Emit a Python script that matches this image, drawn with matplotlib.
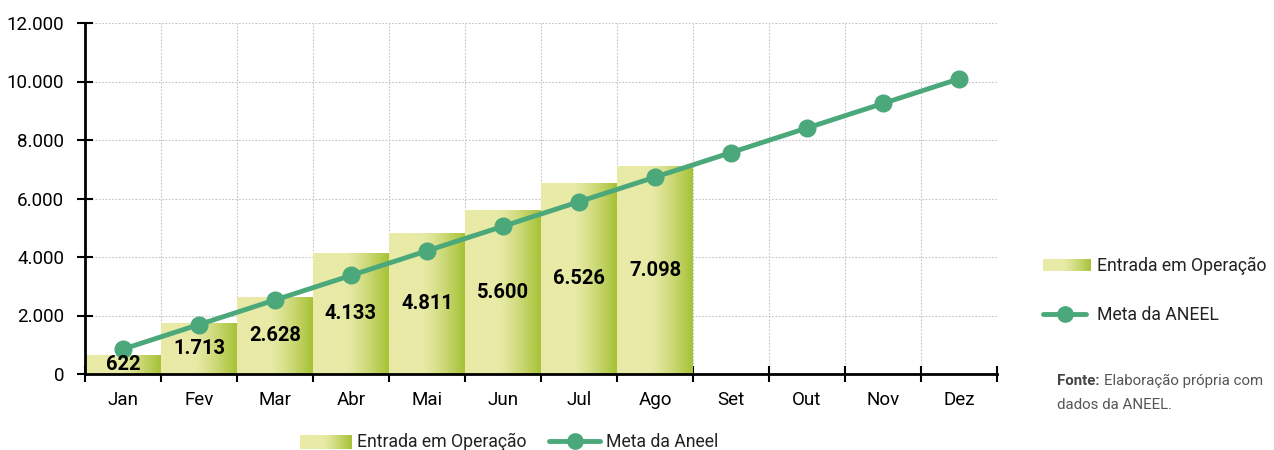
import numpy as np
import matplotlib
matplotlib.use("Agg")
import matplotlib.pyplot as plt
from matplotlib.colors import to_rgb
from matplotlib.lines import Line2D
from matplotlib.ticker import FuncFormatter, FixedLocator

plt.rcParams['font.family'] = ['Roboto', 'DejaVu Sans']

meses = ['Jan', 'Fev', 'Mar', 'Abr', 'Mai', 'Jun', 'Jul', 'Ago', 'Set', 'Out', 'Nov', 'Dez']
entrada = [622, 1713, 2628, 4133, 4811, 5600, 6526, 7098]
meta = [850, 1690, 2530, 3370, 4210, 5050, 5890, 6730, 7570, 8410, 9250, 10090]

light = np.array(to_rgb('#e8eaa6'))
dark = np.array(to_rgb('#a6c236'))
line_col = '#4aa87a'

# gradient along the bar width: flat light part, then ramp to dark
t = np.linspace(0, 1, 200)
w = np.clip((t - 0.45) / 0.55, 0, 1) ** 1.2
grad = (light[None, :] * (1 - w[:, None]) + dark[None, :] * w[:, None])[None, :, :]

fig = plt.figure(figsize=(12.74, 4.5), dpi=100)
ax = fig.add_axes([85 / 1274, 76 / 450, 912 / 1274, 351 / 450])

x = np.arange(len(meses))
bars = ax.bar(x[:len(entrada)], entrada, width=1.0, color='none', zorder=2)
for b, v in zip(bars, entrada):
    ax.imshow(grad, extent=[b.get_x(), b.get_x() + b.get_width(), 0, b.get_height()],
              aspect='auto', zorder=2, interpolation='bilinear')
    ax.text(b.get_x() + b.get_width() / 2, v / 2, f'{v:,}'.replace(',', '.'),
            ha='center', va='center', fontsize=14.5, fontweight='bold', zorder=4)

ax.plot(x, meta, color=line_col, lw=3.5, marker='o', ms=12, zorder=3)

ax.set_xlim(-0.5, len(meses) - 0.5)
ax.set_ylim(0, 12000)
ax.set_yticks(range(0, 12001, 2000))
ax.yaxis.set_major_formatter(FuncFormatter(lambda v, p: f'{int(v):,}'.replace(',', '.')))

ax.xaxis.set_major_locator(FixedLocator(np.arange(-0.5, len(meses), 1.0)))
ax.xaxis.set_major_formatter(FuncFormatter(lambda v, p: ''))
ax.set_xticks(x, minor=True)
ax.set_xticklabels(meses, minor=True)
ax.tick_params(axis='x', which='minor', length=0, labelsize=13.5, pad=12)
ax.tick_params(axis='x', which='major', direction='inout', length=12, width=1.5)
ax.tick_params(axis='y', direction='inout', length=12, width=1.5, labelsize=13.5, pad=9)

ax.grid(True, which='major', color='#c4c4c4', ls=(0, (1.5, 1.5)), lw=0.8)
ax.set_axisbelow(True)
for s in ['top', 'right']:
    ax.spines[s].set_visible(False)
for s in ['left', 'bottom']:
    ax.spines[s].set_linewidth(2)
    ax.spines[s].set_zorder(5)


def swatch(x0, y0, wpx, hpx):
    a = fig.add_axes([x0 / 1274, 1 - (y0 + hpx) / 450, wpx / 1274, hpx / 450])
    a.imshow(grad, aspect='auto', interpolation='bilinear')
    a.axis('off')


def legline(x0, x1, y):
    yf = 1 - y / 450
    fig.add_artist(Line2D([x0 / 1274, x1 / 1274], [yf, yf], color=line_col, lw=3.5,
                          solid_capstyle='round'))
    fig.add_artist(Line2D([(x0 + x1) / 2 / 1274], [yf], color=line_col, marker='o', ms=11))


# right legend
swatch(1043, 259, 48, 12)
fig.text(1097 / 1274, 1 - 266 / 450, 'Entrada em Operação', fontsize=12.7, va='center',
         color='#222222')
legline(1043, 1086, 314)
fig.text(1097 / 1274, 1 - 315 / 450, 'Meta da ANEEL', fontsize=12.7, va='center',
         color='#222222')

# source note: bold "Fonte:" followed by regular text
fonte = fig.text(1057 / 1274, 1 - 385 / 450, 'Fonte:', fontsize=10.8, fontweight='bold',
                 va='baseline', color='#444444')
ax.annotate('Elaboração própria com', xy=(1, 0), xycoords=fonte, xytext=(3, 0),
            textcoords='offset points', fontsize=10.8, va='bottom', color='#555555',
            annotation_clip=False)
fig.text(1057 / 1274, 1 - 405 / 450, 'dados da ANEEL.', fontsize=10.8, va='center',
         color='#555555')

# bottom legend
swatch(300, 435, 52, 14)
fig.text(357 / 1274, 1 - 442 / 450, 'Entrada em Operação', fontsize=12.7, va='center',
         color='#222222')
legline(549, 600, 441)
fig.text(606 / 1274, 1 - 442 / 450, 'Meta da Aneel', fontsize=12.7, va='center',
         color='#222222')

fig.savefig('out.png', dpi=100)
